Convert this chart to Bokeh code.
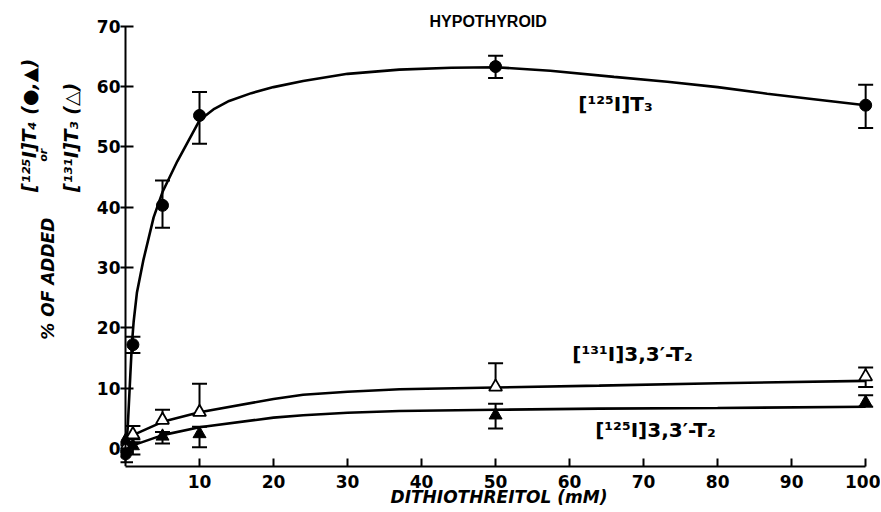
import math
from bokeh.plotting import figure
from bokeh.layouts import row
from bokeh.models import (ColumnDataSource, Whisker, TeeHead, Label, FixedTicker, Range1d,
                          LinearAxis)
from bokeh.embed import file_html
from bokeh.resources import INLINE

# ---------------- data ----------------
dtt = [0, 1, 5, 10, 50, 100]

t3 = [-0.9, 17.2, 40.3, 55.2, 63.3, 56.9]
t3_lo = [-2.3, 15.8, 36.6, 50.5, 61.4, 53.1]
t3_hi = [0.5, 18.5, 44.4, 59.1, 65.1, 60.3]

t2_131 = [0.0, 2.3, 4.7, 6.0, 10.2, 11.9]
t2_131_lo = [0.0, 1.0, 4.7, 6.0, 10.2, 10.2]
t2_131_hi = [0.0, 3.7, 6.4, 10.7, 14.1, 13.4]

t2_125 = [1.3, 0.4, 2.0, 2.4, 5.5, 7.6]
t2_125_lo = [1.3, -1.0, 0.8, 0.2, 3.3, 6.9]
t2_125_hi = [1.3, 1.5, 2.7, 3.6, 7.4, 8.8]

# fitted curves
t3_curve_x = [0, 0.3, 0.64, 0.86, 1.1, 1.54, 2.43, 3.8, 5, 7, 10, 12, 14, 17, 20,
              24, 30, 37, 44, 50, 57.4, 66, 73.2, 80, 86.7, 93, 100]
t3_curve_y = [-1.0, 3.5, 11.9, 17.2, 21.0, 25.8, 31.3, 38.3, 42.5, 47.6, 54.4, 56.3,
              57.6, 58.9, 59.9, 60.9, 62.1, 62.8, 63.1, 63.2, 62.6, 61.6, 60.8, 59.9,
              58.8, 57.9, 56.9]

t2_curve_x = [0, 1, 5, 10, 20, 24, 30, 37, 50, 64, 80, 100]
t2_131_curve_y = [0.8, 2.2, 4.4, 6.0, 8.2, 8.9, 9.4, 9.8, 10.1, 10.4, 10.8, 11.2]
t2_125_curve_y = [0.0, 0.5, 2.2, 3.5, 5.1, 5.5, 5.9, 6.2, 6.4, 6.6, 6.7, 6.9]

x_ticks = [10, 20, 30, 40, 50, 60, 70, 80, 90, 100]
y_ticks = [0, 10, 20, 30, 40, 50, 60, 70]

LEFT_W = 84
H = 510
FRAME_LEFT = 120                  # page x of the plotting frame's left edge
X0 = -(125 - FRAME_LEFT) / 7.4    # data x at frame left so that x=0 falls on page x 125

# ---------------- main figure ----------------
p = figure(width=880 - LEFT_W, height=H, x_range=(X0, 101.6), y_range=(-3, 72.6),
           output_backend="svg", toolbar_location=None, title=None,
           min_border_left=FRAME_LEFT - LEFT_W, min_border_right=3, min_border_top=10,
           min_border_bottom=44)
p.outline_line_color = None
p.xgrid.grid_line_color = None
p.ygrid.grid_line_color = None
p.background_fill_color = "white"
p.border_fill_color = "white"


def style_axis(ax):
    ax.axis_line_width = 2
    ax.axis_line_color = "black"
    ax.major_tick_line_width = 2
    ax.major_tick_line_color = "black"
    ax.major_tick_in = 8
    ax.major_tick_out = 0
    ax.minor_tick_line_color = None
    ax.major_label_text_font = "DejaVu Sans"
    ax.major_label_text_font_style = "bold"
    ax.major_label_text_font_size = "17px"
    ax.major_label_text_color = "black"


# x axis
xa = p.xaxis[0]
style_axis(xa)
xa.ticker = FixedTicker(ticks=x_ticks)
xa.bounds = (0, 100)
xa.major_label_standoff = 8
xa.axis_label = "DITHIOTHREITOL (mM)"
xa.axis_label_text_font = "DejaVu Sans"
xa.axis_label_text_font_style = "bold italic"
xa.axis_label_text_font_size = "17px"
xa.axis_label_text_color = "black"
xa.axis_label_standoff = -4

# y axis: tick labels and ticks from the frame edge (ticks cross the x=0 line)
ya = p.yaxis[0]
style_axis(ya)
ya.ticker = FixedTicker(ticks=y_ticks)
ya.axis_line_color = None
ya.major_tick_in = 13
ya.major_label_standoff = 0

# y axis line drawn at x = 0
ya_line = LinearAxis(fixed_location=0, ticker=FixedTicker(ticks=[]), bounds=(-3, 70))
style_axis(ya_line)
ya_line.major_label_standoff = 0
p.add_layout(ya_line, "left")

# curves
p.line(t3_curve_x, t3_curve_y, line_width=2.6, line_color="black")
p.line(t2_curve_x, t2_131_curve_y, line_width=2.6, line_color="black")
p.line(t2_curve_x, t2_125_curve_y, line_width=2.6, line_color="black")


def add_errors(xs, ys, los, his):
    up = [(x, y, h) for x, y, h in zip(xs, ys, his) if h > y]
    dn = [(x, y, l) for x, y, l in zip(xs, ys, los) if l < y]
    if up:
        src = ColumnDataSource(dict(x=[u[0] for u in up], base=[u[1] for u in up],
                                    top=[u[2] for u in up]))
        p.add_layout(Whisker(source=src, base="x", lower="base", upper="top",
                             dimension="height", line_width=2, line_color="black",
                             upper_head=TeeHead(size=15, line_width=2, line_color="black"),
                             lower_head=None))
    if dn:
        src = ColumnDataSource(dict(x=[d[0] for d in dn], base=[d[1] for d in dn],
                                    bot=[d[2] for d in dn]))
        p.add_layout(Whisker(source=src, base="x", lower="bot", upper="base",
                             dimension="height", line_width=2, line_color="black",
                             lower_head=TeeHead(size=15, line_width=2, line_color="black"),
                             upper_head=None))


add_errors(dtt, t2_131, t2_131_lo, t2_131_hi)
add_errors(dtt, t2_125, t2_125_lo, t2_125_hi)
add_errors(dtt, t3, t3_lo, t3_hi)

# markers
p.scatter(dtt, t2_131, marker="triangle", size=13, fill_color="white",
          line_color="black", line_width=1.8)
p.scatter(dtt, t2_125, marker="triangle", size=13, fill_color="black",
          line_color="black", line_width=1)
p.scatter(dtt, t3, marker="circle", size=12, fill_color="black",
          line_color="black", line_width=1)


def lab(fig, x, y, text, size, style="bold", font="DejaVu Sans", angle=0.0,
        align="center", baseline="middle"):
    fig.add_layout(Label(x=x, y=y, x_units="data", y_units="data", text=text,
                         text_font=font, text_font_size=size, text_font_style=style,
                         text_color="black", angle=angle, angle_units="rad",
                         text_align=align, text_baseline=baseline))


lab(p, 49.0, 70.8, "HYPOTHYROID", "16px", font="Liberation Sans")
lab(p, 66.2, 57.1, "[¹²⁵I]T₃", "20px")
lab(p, 68.5, 15.6, "[¹³¹I]3,3′-T₂", "20px")
lab(p, 71.6, 3.1, "[¹²⁵I]3,3′-T₂", "20px")

# ---------------- left strip holding the y-axis title ----------------
q = figure(width=LEFT_W, height=H, x_range=Range1d(0, LEFT_W), y_range=Range1d(H, 0),
           output_backend="svg", toolbar_location=None, title=None, min_border=0,
           x_axis_location=None, y_axis_location=None)
q.xgrid.grid_line_color = None
q.ygrid.grid_line_color = None
q.outline_line_color = None
q.background_fill_color = "white"
q.border_fill_color = "white"

lab(q, 47, 300, "% OF ADDED", "17px", style="bold italic", angle=math.pi / 2)
lab(q, 28, 203, "[¹²⁵I]T₄ (●,▲)", "19px", style="bold italic", angle=math.pi / 2,
    align="left")
lab(q, 43, 162, "or", "11px", style="bold italic", angle=math.pi / 2)
lab(q, 70, 203, "[¹³¹I]T₃ (△)", "19px", style="bold italic", angle=math.pi / 2,
    align="left")

layout = row(q, p)
open("out.html", "w").write(file_html(layout, INLINE))
